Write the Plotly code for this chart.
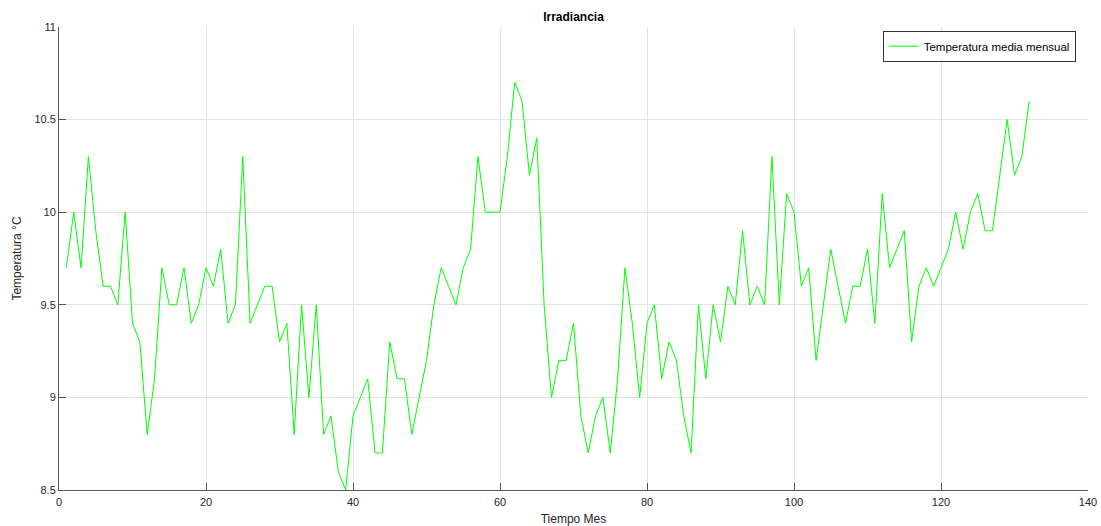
import plotly.graph_objects as go

months = list(range(1, 133))
temps = [
    9.7, 10.0, 9.7, 10.3, 9.9, 9.6, 9.6, 9.5, 10.0, 9.4,
    9.3, 8.8, 9.1, 9.7, 9.5, 9.5, 9.7, 9.4, 9.5, 9.7,
    9.6, 9.8, 9.4, 9.5, 10.3, 9.4, 9.5, 9.6, 9.6, 9.3,
    9.4, 8.8, 9.5, 9.0, 9.5, 8.8, 8.9, 8.6, 8.5, 8.9,
    9.0, 9.1, 8.7, 8.7, 9.3, 9.1, 9.1, 8.8, 9.0, 9.2,
    9.5, 9.7, 9.6, 9.5, 9.7, 9.8, 10.3, 10.0, 10.0, 10.0,
    10.3, 10.7, 10.6, 10.2, 10.4, 9.5, 9.0, 9.2, 9.2, 9.4,
    8.9, 8.7, 8.9, 9.0, 8.7, 9.1, 9.7, 9.4, 9.0, 9.4,
    9.5, 9.1, 9.3, 9.2, 8.9, 8.7, 9.5, 9.1, 9.5, 9.3,
    9.6, 9.5, 9.9, 9.5, 9.6, 9.5, 10.3, 9.5, 10.1, 10.0,
    9.6, 9.7, 9.2, 9.5, 9.8, 9.6, 9.4, 9.6, 9.6, 9.8,
    9.4, 10.1, 9.7, 9.8, 9.9, 9.3, 9.6, 9.7, 9.6, 9.7,
    9.8, 10.0, 9.8, 10.0, 10.1, 9.9, 9.9, 10.2, 10.5, 10.2,
    10.3, 10.6,
]
x_ticks = [0, 20, 40, 60, 80, 100, 120, 140]
y_ticks = [8.5, 9, 9.5, 10, 10.5, 11]
y_ticklabels = ["8.5", "9", "9.5", "10", "10.5", "11"]

FONT = "Liberation Sans, Arial, Helvetica, sans-serif"
AXC = "#555555"
GRID = "#e3e3e3"

fig = go.Figure()
fig.add_trace(go.Scatter(
    x=months, y=temps, mode="lines",
    line=dict(color="#00ff00", width=1),
    name="Temperatura media mensual",
))

fig.update_layout(
    width=1101, height=526,
    margin=dict(l=59, r=13, t=27, b=36, autoexpand=False),
    paper_bgcolor="white", plot_bgcolor="white",
    font=dict(family=FONT, size=11, color="#262626"),
    title=dict(text="<b>Irradiancia</b>", x=(59 + 1088) / 2 / 1101, xanchor="center",
               y=1 - 17 / 526, yanchor="middle",
               font=dict(family=FONT, size=12, color="#000000")),
    showlegend=True,
    legend=dict(x=0.988, y=0.992, xanchor="right", yanchor="top",
                bgcolor="white", bordercolor="#333333", borderwidth=1,
                font=dict(family=FONT, size=11.5, color="#000000"),
                tracegroupgap=0, itemwidth=30),
)

fig.update_xaxes(
    range=[0, 140], tickvals=x_ticks, ticktext=[str(v) for v in x_ticks],
    showgrid=True, gridcolor=GRID, gridwidth=1,
    showline=True, linecolor=AXC, linewidth=1,
    ticks="inside", ticklen=7, tickcolor=AXC, tickwidth=1,
    zeroline=False, mirror=False, automargin=False, ticklabelstandoff=2,
    tickfont=dict(family=FONT, size=11, color="#262626"),
    title=dict(text="Tiempo Mes", font=dict(family=FONT, size=12, color="#262626"), standoff=9),
)
fig.update_yaxes(
    range=[8.5, 11], tickvals=y_ticks, ticktext=y_ticklabels,
    showgrid=True, gridcolor=GRID, gridwidth=1,
    showline=True, linecolor=AXC, linewidth=1,
    ticks="inside", ticklen=7, tickcolor=AXC, tickwidth=1,
    zeroline=False, mirror=False, automargin=False,
    tickfont=dict(family=FONT, size=11, color="#262626"),
    title=dict(text="Temperatura °C", font=dict(family=FONT, size=12, color="#262626"), standoff=10),
)

fig.write_html("out.html")
